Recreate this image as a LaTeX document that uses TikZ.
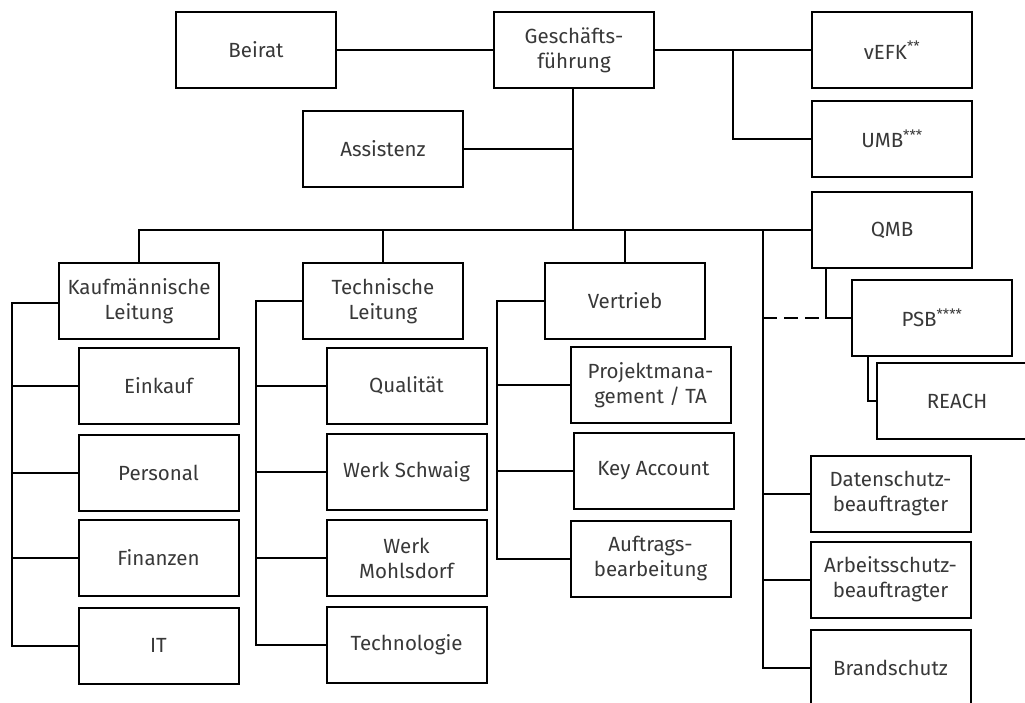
\documentclass[tikz,border=0pt]{standalone}
\usepackage{fontspec}
\setmainfont{Fira Sans}
\begin{document}
\begin{tikzpicture}[x=1pt,y=-1pt,
  box/.style={draw=black,line width=2pt,rectangle,minimum width=160pt,minimum height=76pt,
    inner sep=1pt,align=center,font=\fontsize{20.5}{25}\selectfont,text=black!78},
  con/.style={line width=2pt,line cap=rect},
  dcon/.style={line width=2pt,dash pattern=on 14pt off 7pt}]
\useasboundingbox (0,0) rectangle (1025,702);
\node[box] (beirat) at (256,50) {Beirat};
\node[box] (gf) at (574,50) {Geschäfts-\\führung};
\node[box] (assist) at (383,149) {Assistenz};
\node[box] (vefk) at (892,50) {vEFK\textsuperscript{**}};
\node[box] (umb) at (892,139) {UMB\textsuperscript{***}};
\node[box] (qmb) at (892,230) {QMB};
\node[box] (psb) at (932,318) {PSB\textsuperscript{****}};
\node[box] (reach) at (957,401) {REACH};
\node[box] (kl) at (139,301) {Kaufmännische\\Leitung};
\node[box] (tl) at (383,301) {Technische\\Leitung};
\node[box] (vt) at (625,300.5) {Vertrieb};
\node[box] (ek) at (158.5,386) {Einkauf};
\node[box] (pers) at (158.5,472.5) {Personal};
\node[box] (fin) at (158.5,558) {Finanzen};
\node[box] (it) at (158.5,645.5) {IT};
\node[box] (qual) at (406.5,386) {Qualität};
\node[box] (ws) at (406.5,472) {Werk Schwaig};
\node[box] (wm) at (406.5,558) {Werk\\Mohlsdorf};
\node[box] (tech) at (406.5,644.5) {Technologie};
\node[box] (pm) at (650.5,385) {Projektmana-\\gement / TA};
\node[box] (ka) at (653.5,470.5) {Key Account};
\node[box] (ab) at (650.5,558.5) {Auftrags-\\bearbeitung};
\node[box] (ds) at (890.5,494) {Datenschutz-\\beauftragter};
\node[box] (as) at (890.5,579.5) {Arbeitsschutz-\\beauftragter};
\node[box] (bs) at (890.5,668) {Brandschutz};
% coordinates
\coordinate (br) at (573,230);
\coordinate (vk) at (733,50);
\coordinate (rv) at (763,230);
\coordinate (rd) at (763,318);
\coordinate (qd) at (826,318);
\coordinate (klv) at (12,303);
\coordinate (tlv) at (256,301);
\coordinate (vtv) at (497,300.5);
% top
\draw[con] (beirat.east) -- (gf.west);
\draw[con] (gf.east) -- (vefk.west);
\draw[con] (vk) |- (umb.west);
\draw[con] (gf.south -| br) -- (br);
\draw[con] (assist.east) -- (assist.east -| br);
\draw[con] (kl.north) -- (kl.north |- br) -- (qmb.west);
\draw[con] (tl.north) -- (tl.north |- br);
\draw[con] (vt.north) -- (vt.north |- br);
% right column
\draw[con] (rv) |- (bs.west);
\draw[con] (rv |- ds.west) -- (ds.west);
\draw[con] (rv |- as.west) -- (as.west);
\draw[dcon] (rd) -- (qd);
\draw[con] (qd |- qmb.south) -- (qd) -- (psb.west);
\draw[con] (868,356) coordinate (ps) -- (ps |- reach.west) -- (reach.west);
% left groups
\draw[con] (kl.west |- klv) -- (klv) |- (it.west);
\draw[con] (klv |- ek.west) -- (ek.west);
\draw[con] (klv |- pers.west) -- (pers.west);
\draw[con] (klv |- fin.west) -- (fin.west);
\draw[con] (tl.west) -- (tlv) |- (tech.west);
\draw[con] (tlv |- qual.west) -- (qual.west);
\draw[con] (tlv |- ws.west) -- (ws.west);
\draw[con] (tlv |- wm.west) -- (wm.west);
\draw[con] (vt.west) -- (vtv) |- (ab.west);
\draw[con] (vtv |- pm.west) -- (pm.west);
\draw[con] (vtv |- ka.west) -- (ka.west);
\end{tikzpicture}
\end{document}
